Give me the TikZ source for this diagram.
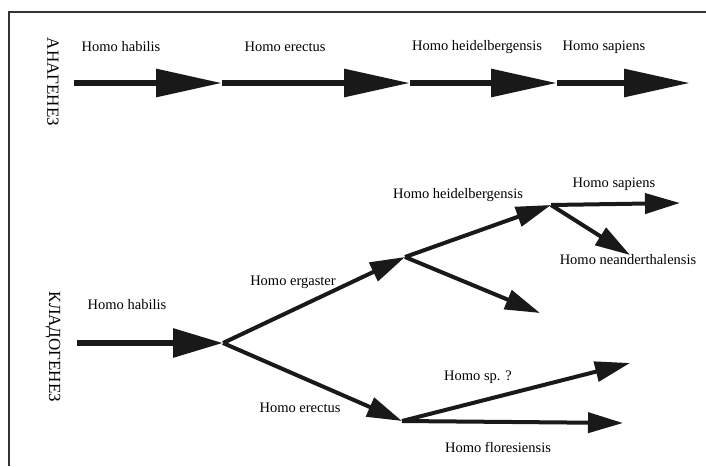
\documentclass[tikz,border=0pt]{standalone}
\usepackage{fontspec}
\setmainfont{Liberation Serif}
\usetikzlibrary{arrows.meta, positioning}
\tikzset {
  taxon/.style = {font=\fontsize{14.5}{17}\selectfont, inner sep=0pt},
  stage/.style = {font=\fontsize{17}{20}\selectfont, inner sep=0pt, rotate=-90},
  trunk/.style = {line width=6, color=black!90, -{Triangle[length=66, width=27]}},
  stem/.style = {line width=6, color=black!90, -{Triangle[length=50, width=28]}},
  branch/.style = {line width=4, color=black!90, -{Triangle[length=35, width=20]}},
  frame/.style = {line width=1.2, color=black!80}
}

\begin{document}
\begin{tikzpicture}[x=1pt, y=-1pt]
  \useasboundingbox (0,0) rectangle (706,466);
  \draw[frame] (9,466) -- (9,12) -- (706,12);

  % anagenesis
  \node[stage] (ana) at (53,82) {АНАГЕНЕЗ};
  \coordinate (a0) at (74,83);
  \coordinate (a1) at (222,83);
  \coordinate (a2) at (410,83);
  \coordinate (a3) at (557,83);
  \coordinate (a4) at (690,83);
  \draw[trunk] (a0) -- (a1);
  \draw[trunk] (a1) -- (a2);
  \draw[trunk] (a2) -- (a3);
  \draw[trunk] (a3) -- (a4);
  \node[taxon] (habA) at (121,47) {Homo habilis};
  \node[taxon] (ereA) at (285,47) {Homo erectus};
  \node[taxon] (heiA) at (477,47) {Homo heidelbergensis};
  \node[taxon] (sapA) at (604,47) {Homo sapiens};

  % cladogenesis
  \node[stage] (clado) at (53,347) {КЛАДОГЕНЕЗ};
  \coordinate (root) at (77,343);
  \coordinate (split) at (223,343);
  \coordinate (erg) at (405,257);
  \coordinate (ere) at (402,421);
  \coordinate (hei) at (551,205);
  \coordinate (side) at (540,313);
  \coordinate (sap) at (680,203);
  \coordinate (nea) at (630,255);
  \coordinate (sp) at (630,363);
  \coordinate (flo) at (623,423);
  \draw[stem] (root) -- (split);
  \draw[branch] (split) -- (erg);
  \draw[branch] (split) -- (ere);
  \draw[branch] (erg) -- (hei);
  \draw[branch] (erg) -- (side);
  \draw[branch] (hei) -- (sap);
  \draw[branch] (hei) -- (nea);
  \draw[branch] (ere) -- (sp);
  \draw[branch] (ere) -- (flo);
  \node[taxon] (habC) at (127,305) {Homo habilis};
  \node[taxon] (ergC) at (293,282) {Homo ergaster};
  \node[taxon] (ereC) at (300,408) {Homo erectus};
  \node[taxon] (heiC) at (458,195) {Homo heidelbergensis};
  \node[taxon] (sapC) at (614,184) {Homo sapiens};
  \node[taxon] (neaC) at (628,260) {Homo neanderthalensis};
  \node[taxon] (spC) at (478,377) {Homo sp. ?};
  \node[taxon] (floC) at (498,447) {Homo floresiensis};
\end{tikzpicture}
\end{document}
